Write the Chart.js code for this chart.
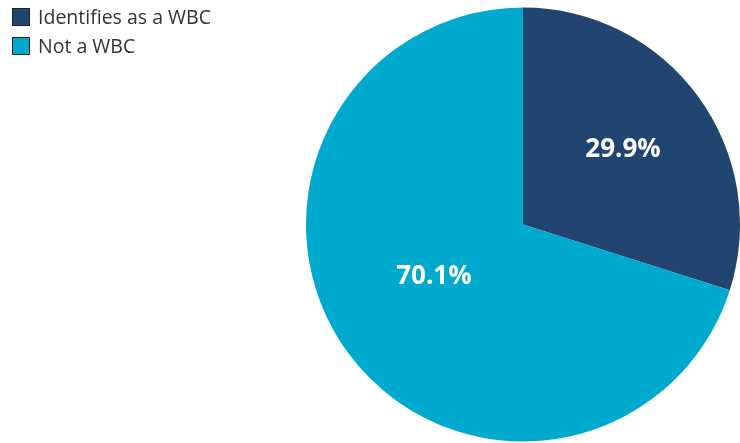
<!DOCTYPE html>
<html>
<head>
<meta charset="utf-8">
<script src="https://cdn.jsdelivr.net/npm/chart.js@4.4.0/dist/chart.umd.min.js"></script>
<style>
    html, body { margin: 0; padding: 0; background: #fff; }
    #wrap { position: relative; width: 740px; height: 443px; }
    #legend { position: absolute; left: 12px; top: 2px; font-family: "Open Sans", sans-serif; font-size: 19.5px; color: #333; }
    .item { display: flex; align-items: center; height: 29px; }
    .box { width: 16px; height: 16px; border: 1px solid #222; margin-right: 8px; }
</style>
</head>
<body>
<div id="wrap">
    <canvas id="pieChart" width="740" height="443"></canvas>
    <div id="legend"></div>
</div>
<script>
const categories = ['Identifies as a WBC', 'Not a WBC'];
const shares = [29.9, 70.1];
const colors = ['#224470', '#00AACF'];

// label placement inside each slice (fraction of radius, angle nudge in degrees)
const labelRadius = [0.575, 0.475];
const labelNudge = [-0.5, 6];

const sliceLabels = {
    id: 'sliceLabels',
    afterDatasetsDraw(chart) {
        const ctx = chart.ctx;
        const meta = chart.getDatasetMeta(0);
        ctx.save();
        ctx.fillStyle = '#fff';
        ctx.font = 'bold 26px "Open Sans", sans-serif';
        ctx.textAlign = 'center';
        ctx.textBaseline = 'middle';
        meta.data.forEach((arc, i) => {
            const p = arc.getProps(['x', 'y', 'startAngle', 'endAngle', 'outerRadius']);
            const mid = (p.startAngle + p.endAngle) / 2 + labelNudge[i] * Math.PI / 180;
            const r = p.outerRadius * labelRadius[i];
            ctx.fillText(shares[i].toFixed(1) + '%', p.x + Math.cos(mid) * r, p.y + Math.sin(mid) * r);
        });
        ctx.restore();
    }
};

new Chart(document.getElementById('pieChart').getContext('2d'), {
    type: 'pie',
    data: {
        labels: categories,
        datasets: [{
            data: shares,
            backgroundColor: colors,
            borderWidth: 0
        }]
    },
    options: {
        responsive: false,
        animation: false,
        layout: { padding: { left: 306, top: 7, bottom: 1, right: 0 } },
        plugins: {
            legend: { display: false },
            tooltip: { enabled: false }
        }
    },
    plugins: [sliceLabels]
});

document.getElementById('legend').innerHTML = categories.map((c, i) =>
    `<div class="item"><div class="box" style="background:${colors[i]}"></div>${c}</div>`
).join('');
</script>
</body>
</html>
